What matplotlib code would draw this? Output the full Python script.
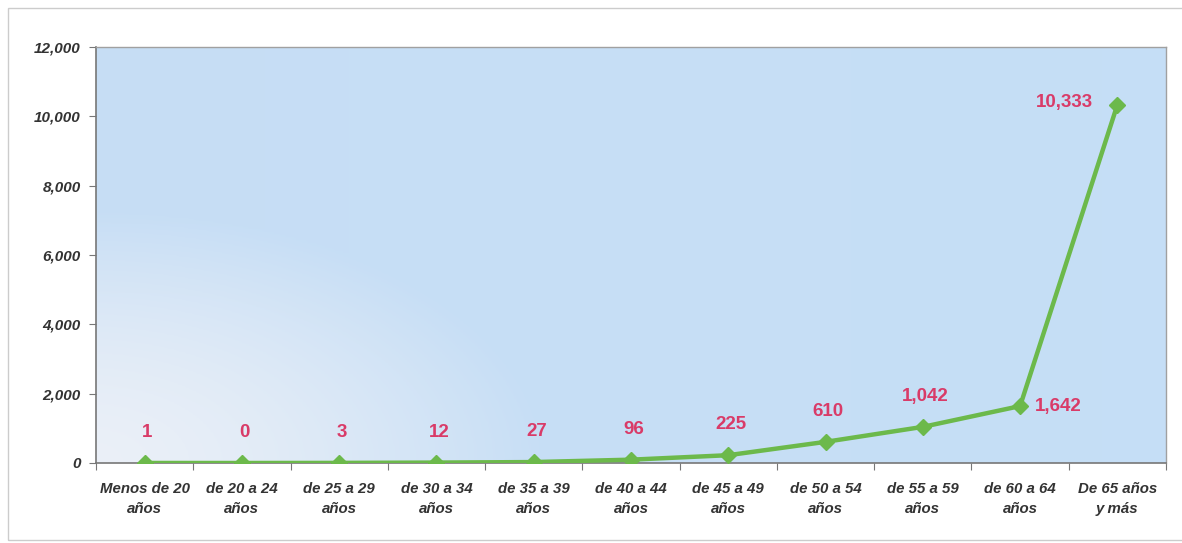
import matplotlib
matplotlib.use("Agg")
import matplotlib.pyplot as plt
import numpy as np
from matplotlib.patches import Rectangle

categories = ["Menos de 20\naños", "de 20 a 24\naños", "de 25 a 29\naños", "de 30 a 34\naños",
              "de 35 a 39\naños", "de 40 a 44\naños", "de 45 a 49\naños", "de 50 a 54\naños",
              "de 55 a 59\naños", "de 60 a 64\naños", "De 65 años\ny más"]
values = [1, 0, 3, 12, 27, 96, 225, 610, 1042, 1642, 10333]
yticks = [0, 2000, 4000, 6000, 8000, 10000, 12000]

W, H = 1182, 543
fig = plt.figure(figsize=(W / 100, H / 100), dpi=100)
fig.patch.set_facecolor("white")
fig.patches.append(Rectangle((8 / W, 3 / H), 1.2, (532 / H), transform=fig.transFigure,
                             fill=False, edgecolor="#cccccc", linewidth=1.0))

ax = fig.add_axes([96 / W, (H - 463) / H, (1166 - 96) / W, (463 - 47) / H])

# gradient background
nx, ny = 300, 150
u = np.linspace(0, 1, nx)[None, :]
v = np.linspace(1, 0, ny)[:, None]
s = np.clip(np.sqrt((u / 0.42) ** 2 + (v / 0.6) ** 2), 0, 1) ** 1.6
light = np.array([0.92, 0.94, 0.97])
blue = np.array([0.78, 0.87, 0.96])
img = light[None, None, :] * (1 - s[..., None]) + blue[None, None, :] * s[..., None]
r = np.clip(u, 0, 1)[..., None]
img = img * (1 - 0.25 * r) + np.array([0.76, 0.88, 0.98])[None, None, :] * 0.25 * r
ax.imshow(img, extent=[0, 1, 0, 1], transform=ax.transAxes, aspect="auto", zorder=0)

x = np.arange(len(categories))
ax.plot(x, values, color="#6cb94b", linewidth=3.2, marker="D", markersize=8,
        markerfacecolor="#6cb94b", markeredgecolor="#6cb94b", zorder=3)

label_color = "#d93b68"
lab_kw = dict(textcoords="offset points", va="center", color=label_color, fontsize=13.5,
              fontweight="bold", family="Liberation Sans")
for i, val in enumerate(values):
    txt = f"{val:,}"
    if i == len(values) - 1:
        ax.annotate(txt, (x[i], val), xytext=(-38, 2), ha="center", **lab_kw)
    elif i == len(values) - 2:
        ax.annotate(txt, (x[i], val), xytext=(11, 0), ha="left", **lab_kw)
    else:
        ax.annotate(txt, (x[i], val), xytext=(2, 22), ha="center", **lab_kw)

ax.set_xlim(-0.5, len(categories) - 0.5)
ax.set_ylim(0, 12000)
ax.set_yticks(yticks)
ax.set_yticklabels([f"{t:,}" for t in yticks], fontsize=11, fontweight="bold",
                   fontstyle="italic", family="Liberation Sans", color="#333333")
ax.set_xticks(np.arange(-0.5, len(categories), 1.0))
ax.set_xticklabels([])
ax.set_xticks(x, minor=True)
ax.set_xticklabels(categories, minor=True, fontsize=10.8, fontweight="bold",
                   fontstyle="italic", family="Liberation Sans", color="#333333",
                   linespacing=1.5)
ax.tick_params(axis="x", which="major", direction="out", length=5, color="#777777")
ax.tick_params(axis="x", which="minor", length=0, pad=14)
ax.tick_params(axis="y", direction="out", length=5, color="#777777", pad=6)
for sp in ["left", "bottom"]:
    ax.spines[sp].set_color("#777777")
    ax.spines[sp].set_linewidth(1.2)
for sp in ["top", "right"]:
    ax.spines[sp].set_color("#a0a0a0")
    ax.spines[sp].set_linewidth(1.0)

fig.savefig("out.png", dpi=100, facecolor="white")
